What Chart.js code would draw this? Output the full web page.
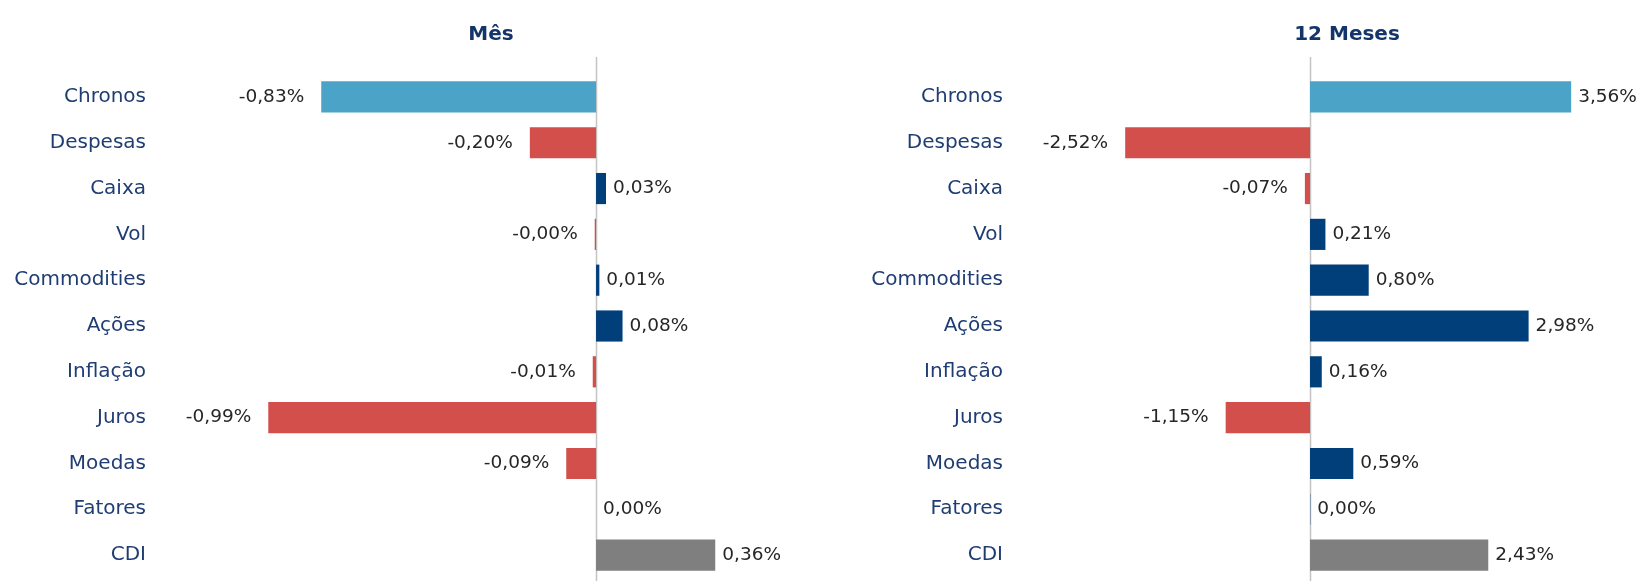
<!DOCTYPE html>
<html>
<head>
<meta charset="utf-8">
<script src="https://cdn.jsdelivr.net/npm/chart.js@4"></script>
<style>
  html, body { margin: 0; padding: 0; background: #fff; }
  #wrap { position: relative; width: 1638px; height: 581px; overflow: hidden; }
  .panel { position: absolute; top: 0; }
</style>
</head>
<body>
<div id="wrap">
  <div class="panel" style="left:0"><canvas id="mes" width="820" height="604"></canvas></div>
  <div class="panel" style="left:820px"><canvas id="ano" width="818" height="604"></canvas></div>
</div>
<script>
const categories = ['Chronos', 'Despesas', 'Caixa', 'Vol', 'Commodities', 'Ações', 'Inflação', 'Juros', 'Moedas', 'Fatores', 'CDI'];
const mesValues = [-0.83, -0.20, 0.03, -0.004, 0.01, 0.08, -0.01, -0.99, -0.09, 0.00, 0.36];
const anoValues = [3.56, -2.52, -0.07, 0.21, 0.80, 2.98, 0.16, -1.15, 0.59, 0.004, 2.43];

const COLORS = { total: '#4BA3C8', neg: '#D34F4B', pos: '#013F7B', cdi: '#7F7F7F' };
const NAVY_TEXT = '#1F3D73';
const FONT = '"DejaVu Sans", Verdana, sans-serif';

function barColors(values) {
    return values.map((v, i) => {
        if (categories[i] === 'Chronos') return COLORS.total;
        if (categories[i] === 'CDI') return COLORS.cdi;
        return v < 0 ? COLORS.neg : COLORS.pos;
    });
}

const fmt = v => v.toFixed(2).replace('.', ',') + '%';

// vertical zero line, runs above the first bar down to the bottom edge
const zeroLine = {
    id: 'zeroLine',
    beforeDatasetsDraw(chart) {
        const ctx = chart.ctx;
        const x = Math.round(chart.scales.x.getPixelForValue(0)) + 0.5;
        ctx.save();
        ctx.strokeStyle = '#C4C4C4';
        ctx.lineWidth = 1.5;
        ctx.beginPath();
        ctx.moveTo(x, 57);
        ctx.lineTo(x, chart.height);
        ctx.stroke();
        ctx.restore();
    }
};

// value labels at the outer end of each bar
const valueLabels = {
    id: 'valueLabels',
    afterDatasetsDraw(chart) {
        const ctx = chart.ctx;
        const data = chart.data.datasets[0].data;
        ctx.save();
        ctx.font = '18.5px ' + FONT;
        ctx.fillStyle = '#262626';
        ctx.textBaseline = 'middle';
        chart.getDatasetMeta(0).data.forEach((bar, i) => {
            const v = data[i];
            if (v < 0) {
                ctx.textAlign = 'right';
                ctx.fillText(fmt(v), bar.x - 17, bar.y);
            } else {
                ctx.textAlign = 'left';
                ctx.fillText(fmt(v), bar.x + 7, bar.y);
            }
        });
        ctx.restore();
    }
};

// panel heading
const panelTitle = {
    id: 'panelTitle',
    afterDraw(chart, args, opts) {
        const ctx = chart.ctx;
        ctx.save();
        ctx.font = 'bold 20px ' + FONT;
        ctx.fillStyle = '#14356A';
        ctx.textAlign = 'center';
        ctx.textBaseline = 'middle';
        ctx.fillText(opts.text, opts.x, 35);
        ctx.restore();
    }
};

function makeChart(id, values, { title, titleX, axisWidth, min, max, padRight }) {
    return new Chart(document.getElementById(id), {
        type: 'bar',
        data: {
            labels: categories,
            datasets: [{
                data: values,
                backgroundColor: barColors(values),
                borderWidth: 0,
                barPercentage: 0.68,
                categoryPercentage: 1
            }]
        },
        options: {
            indexAxis: 'y',
            responsive: false,
            animation: false,
            layout: { padding: { top: 74, bottom: 4, left: 0, right: padRight } },
            scales: {
                x: { display: false, min, max },
                y: {
                    grid: { display: false, drawTicks: false },
                    border: { display: false },
                    ticks: {
                        padding: 14,
                        color: NAVY_TEXT,
                        font: { family: FONT, size: 20 }
                    },
                    afterFit: (scale) => { scale.width = axisWidth; }
                }
            },
            plugins: {
                legend: { display: false },
                tooltip: { enabled: false },
                panelTitle: { text: title, x: titleX }
            }
        },
        plugins: [zeroLine, valueLabels, panelTitle]
    });
}

makeChart('mes', mesValues, {
    title: 'Mês', titleX: 491, axisWidth: 160, min: -1.317, max: 0.616, padRight: 20
});

makeChart('ano', anoValues, {
    title: '12 Meses', titleX: 527, axisWidth: 197, min: -3.995, max: 4.226, padRight: 18
});
</script>
</body>
</html>
